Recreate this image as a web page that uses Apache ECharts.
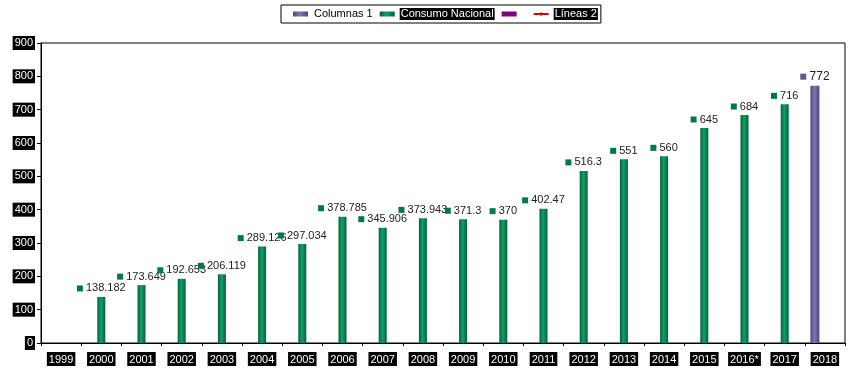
<!DOCTYPE html>
<html>
<head>
<meta charset="utf-8">
<script src="https://cdn.jsdelivr.net/npm/echarts@6/dist/echarts.min.js"></script>
<style>html,body{margin:0;padding:0;background:#fff;}#c{width:859px;height:380px;}</style>
</head>
<body>
<div id="c"></div>
<script>
var categories = ['1999','2000','2001','2002','2003','2004','2005','2006','2007','2008','2009','2010','2011','2012','2013','2014','2015','2016*','2017','2018'];
var consumoNacional = [null,138.182,173.649,192.653,206.119,289.126,297.034,378.785,345.906,373.943,371.3,370,402.47,516.3,551,560,645,684,716,null];
var columnas1 = [null,null,null,null,null,null,null,null,null,null,null,null,null,null,null,null,null,null,null,772];
var serie3 = categories.map(function(){return null;});
var lineas2 = categories.map(function(){return null;});
var yTicks = [0,100,200,300,400,500,600,700,800,900];

var FONT = '"Liberation Sans", Arial, sans-serif';
var green = '#00784A', purple = '#5D5B92';
function grad(dark, light){
  return new echarts.graphic.LinearGradient(0,0,1,0,[
    {offset:0,color:dark},{offset:0.45,color:light},{offset:1,color:dark}]);
}
function lbl(col, size){
  return {
    show:true, position:'top', distance:3,
    formatter:function(p){ return '{sq|}{v| ' + p.value + '}'; },
    rich:{
      sq:{width:6,height:6,backgroundColor:col,verticalAlign:'middle'},
      v:{fontFamily:FONT,fontSize:size,color:'#222',verticalAlign:'middle'}
    }
  };
}
var chart = echarts.init(document.getElementById('c'), null, {renderer:'canvas'});
var axisLabelBase = {color:'#fff',backgroundColor:'#000',fontFamily:FONT,fontSize:11,padding:[2,2,1,2]};
chart.setOption({
  animation:false,
  backgroundColor:'#fff',
  legend:{
    left:281, top:5, padding:[3,3,3,12], itemGap:7, itemWidth:15, itemHeight:5,
    borderColor:'#000', borderWidth:1, borderRadius:0,
    textStyle:{fontFamily:FONT,fontSize:11,color:'#000',padding:[1,1,0,1]},
    data:[
      {name:'Columnas 1', icon:'rect'},
      {name:'Consumo Nacional', icon:'rect', textStyle:{color:'#fff',backgroundColor:'#000'}},
      {name:' ', icon:'rect'},
      {name:'Líneas 2', textStyle:{color:'#fff',backgroundColor:'#000'}}
    ]
  },
  grid:{left:41,right:14,top:43,bottom:37,show:true,borderColor:'#000',borderWidth:1,containLabel:false},
  xAxis:[{
    type:'category', data:categories, boundaryGap:true,
    axisLine:{lineStyle:{color:'#000',width:1}},
    axisTick:{show:true,inside:false,length:3,lineStyle:{color:'#000'},alignWithLabel:false},
    axisLabel:Object.assign({margin:9,interval:0},axisLabelBase)
  },{
    type:'category', data:categories, show:false, gridIndex:0
  }],
  yAxis:{
    type:'value', min:0, max:900, interval:100,
    splitLine:{show:false},
    axisLine:{show:true,lineStyle:{color:'#000'}},
    axisTick:{show:true,length:4,lineStyle:{color:'#000'}},
    axisLabel:Object.assign({margin:6,formatter:function(v){return yTicks.indexOf(v)>=0?String(v):'';}},axisLabelBase)
  },
  series:[
    {name:'Columnas 1', type:'bar', xAxisIndex:0, data:columnas1, barWidth:9, barGap:'122%',
     itemStyle:{color:grad('#4B4980','#7A78AE')}, label:lbl(purple,12)},
    {name:' ', type:'bar', xAxisIndex:0, data:serie3, barWidth:9, itemStyle:{color:'#800080'}},
    {name:'Consumo Nacional', type:'bar', xAxisIndex:1, data:consumoNacional, barWidth:8,
     itemStyle:{color:grad('#006238','#12A06A')}, label:lbl(green,11)},
    {name:'Líneas 2', type:'line', xAxisIndex:0, data:lineas2, symbol:'diamond', symbolSize:6,
     itemStyle:{color:'#E00000'}, lineStyle:{color:'#E00000',width:1}}
  ]
});
</script>
</body>
</html>
